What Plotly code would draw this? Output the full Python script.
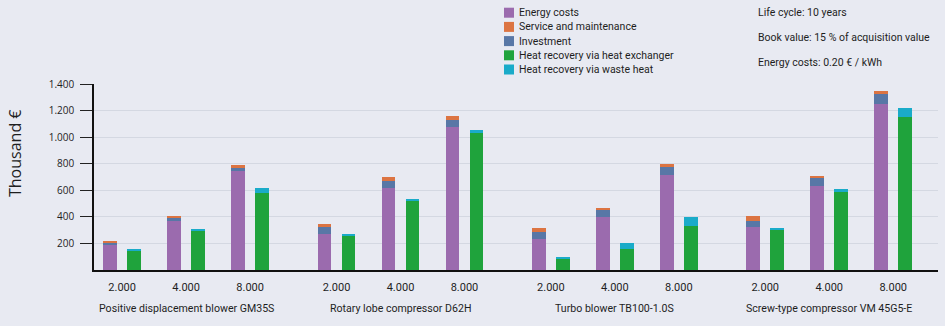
import plotly.graph_objects as go

# Cost comparison over the life cycle (thousand €)
groups = [
    "Positive displacement blower GM35S",
    "Rotary lobe compressor D62H",
    "Turbo blower TB100-1.0S",
    "Screw-type compressor VM 45G5-E",
]
capacities = ["2.000", "4.000", "8.000"]

# one value per (group, capacity), in group order
energy_costs = [185, 370, 742, 272, 616, 1080, 234, 398, 717, 322, 634, 1253]
investment = [20, 25, 30, 55, 51, 47, 55, 55, 60, 48, 58, 73]
service = [15, 15, 15, 20, 30, 30, 25, 17, 20, 33, 18, 20]
heat_exchanger = [145, 300, 578, 262, 520, 1030, 85, 158, 332, 302, 586, 1152]
waste_heat = [15, 10, 42, 12, 13, 25, 15, 43, 66, 12, 23, 68]

y_ticks = [200, 400, 600, 800, 1000, 1200, 1400]
notes = [
    "Life cycle: 10 years",
    "Book value: 15 % of acquisition value",
    "Energy costs: 0.20 € / kWh",
]

COLORS = {
    "Energy costs": "#9b6bae",
    "Service and maintenance": "#dc7442",
    "Investment": "#5877a6",
    "Heat recovery via heat exchanger": "#1fa33c",
    "Heat recovery via waste heat": "#1aabc9",
}
FONT = "Roboto"
TEXT = "#1e1e1e"

# layout geometry
W, H = 945, 326
M_L, M_R, M_T, M_B = 94, 7, 84, 56
PW, PH = W - M_L - M_R, H - M_T - M_B
GROUP_STEP = 3.35
BAR_W = 0.215
OFF = 0.187

pos = [g * GROUP_STEP + c for g in range(len(groups)) for c in range(len(capacities))]
left_x = [p - OFF for p in pos]
right_x = [p + OFF for p in pos]


def px_x(px):
    return (px - M_L) / PW


def px_y(py):
    return (H - M_B - py) / PH


fig = go.Figure()


def stack(xs, layers):
    base = [0] * len(xs)
    for name, vals in layers:
        fig.add_trace(go.Bar(
            x=xs, y=vals, base=list(base), width=BAR_W, name=name,
            marker=dict(color=COLORS[name], line=dict(width=0)),
            showlegend=False,
        ))
        base = [b + v for b, v in zip(base, vals)]


stack(left_x, [("Energy costs", energy_costs),
               ("Investment", investment),
               ("Service and maintenance", service)])
stack(right_x, [("Heat recovery via heat exchanger", heat_exchanger),
                ("Heat recovery via waste heat", waste_heat)])

shapes = []
annotations = []

# legend block
legend_order = ["Energy costs", "Service and maintenance", "Investment",
                "Heat recovery via heat exchanger", "Heat recovery via waste heat"]
for i, name in enumerate(legend_order):
    cy = 12.7 + i * 14.2
    shapes.append(dict(type="rect", xref="paper", yref="paper",
                       x0=px_x(504), x1=px_x(514), y0=px_y(cy + 5), y1=px_y(cy - 5),
                       fillcolor=COLORS[name], line=dict(width=0)))
    annotations.append(dict(text=name, xref="paper", yref="paper",
                            x=px_x(517), y=px_y(cy), xanchor="left", yanchor="middle",
                            showarrow=False, font=dict(family=FONT, size=10.5, color=TEXT)))

# notes
for i, t in enumerate(notes):
    annotations.append(dict(text=t, xref="paper", yref="paper",
                            x=px_x(756), y=px_y(13 + i * 24.5), xanchor="left", yanchor="middle",
                            showarrow=False, font=dict(family=FONT, size=10.5, color=TEXT)))

# group names under the capacity labels
for g, name in enumerate(groups):
    annotations.append(dict(text=name, x=g * GROUP_STEP + 1, xref="x", yref="paper",
                            y=px_y(308), xanchor="center", yanchor="middle",
                            showarrow=False, font=dict(family=FONT, size=10.6, color=TEXT)))

# y-axis title
annotations.append(dict(text="Thousand €", xref="paper", yref="paper",
                        x=px_x(15), y=px_y(154), textangle=-90,
                        xanchor="center", yanchor="middle", showarrow=False,
                        font=dict(family="Open Sans", size=16, color=TEXT)))

fig.update_layout(
    width=W, height=H,
    margin=dict(l=M_L, r=M_R, t=M_T, b=M_B),
    paper_bgcolor="#e8eaf2", plot_bgcolor="#e8eaf2",
    barmode="overlay",
    bargap=0,
    shapes=shapes,
    annotations=annotations,
    xaxis=dict(
        range=[-0.44, pos[-1] + 0.70],
        tickvals=pos,
        ticktext=capacities * len(groups),
        ticks="", showgrid=False, zeroline=False,
        showline=True, linecolor="#111111", linewidth=1.5,
        tickfont=dict(family=FONT, size=11, color=TEXT),
        ticklabelstandoff=6,
    ),
    yaxis=dict(
        range=[0, 1400],
        tickvals=y_ticks,
        ticktext=[f"{v:,}".replace(",", ".") for v in y_ticks],
        ticks="outside", ticklen=12, tickcolor="#222222", tickwidth=1,
        showline=True, linecolor="#111111", linewidth=1.5,
        showgrid=True, gridcolor="#d4d8e2", gridwidth=1,
        zeroline=False,
        tickfont=dict(family="Open Sans", size=10, color=TEXT),
        ticklabelstandoff=4,
    ),
)

fig.write_html("out.html")
